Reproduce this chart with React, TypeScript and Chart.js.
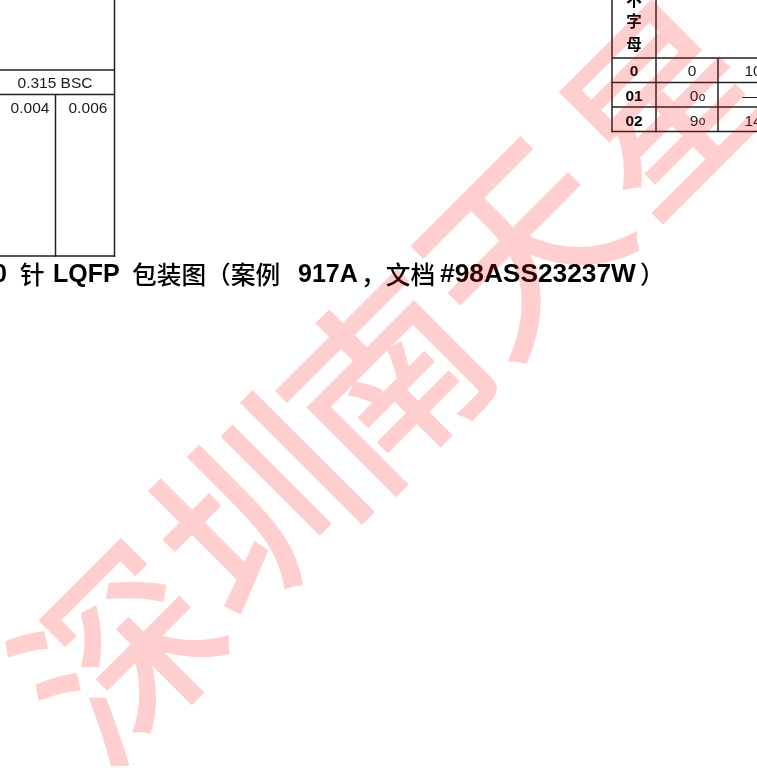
import React, { useEffect, useRef } from "react";
import { Chart, registerables } from "chart.js";

Chart.register(...registerables);

const W = 757;
const H = 768;

// table rules, each a [x1, y1, x2, y2] segment
const ruleSegments: number[][] = [
  [114.5, 0, 114.5, 257],
  [0, 70, 114.5, 70],
  [0, 94.5, 114.5, 94.5],
  [55.5, 94.5, 55.5, 257],
  [0, 256, 114.5, 256],
  [612, 0, 612, 132.5],
  [656, 0, 656, 132.5],
  [612, 58, 757, 58],
  [612, 82.5, 757, 82.5],
  [612, 107, 757, 107],
  [612, 131.5, 757, 131.5],
  [718, 58, 718, 132],
];

const cellTexts = ["0.315 BSC", "0.004", "0.006", "0", "10", "0", "—", "9", "14"];
const cellX = [55, 30, 88, 692, 753, 694, 750, 694, 753];
const cellY = [84, 108.5, 108.5, 72, 72, 97, 97, 121.5, 121.5];

const degreeTexts = ["o", "o"];
const degreeX = [702, 702];
const degreeY = [97.5, 121.5];

const headTexts = ["不", "字", "母", "0", "01", "02"];
const headX = [634, 634, 634, 634, 634, 634];
const headY = [2, 23, 46, 72, 97, 121.5];

const captionRuns = ["0", "针", "LQFP", "包装图（案例", "917A", "，文档", "#98ASS23237W", "）"];
const captionBold = [true, false, true, false, true, false, true, false];
const captionSizes = [25, 24.7, 25, 24.7, 25, 24.7, 26.3, 24.7];
const captionX = [-7, 20, 53, 132, 298, 361, 440, 640];
const captionY = 275;

const markChars = ["深", "圳", "南", "天", "星"];
const markX = [119, 255, 386, 519, 663];
const markY = [652, 508, 380, 244, 104];

const segmentPoints = ruleSegments.flatMap(([x1, y1, x2, y2]) => [
  { x: x1, y: y1 },
  { x: x2, y: y2 },
  { x: NaN, y: NaN },
]);

const pagePlugin = {
  id: "pageTexts",
  afterDatasetsDraw(chart: any) {
    const { ctx, scales } = chart;
    const sx = scales.x;
    const sy = scales.y;
    ctx.save();
    ctx.fillStyle = "#1a1a1a";
    ctx.textBaseline = "middle";
    ctx.textAlign = "center";
    ctx.font = '15.5px "Liberation Sans", Arial, sans-serif';
    cellTexts.forEach((t, i) => {
      ctx.fillText(t, sx.getPixelForValue(cellX[i]), sy.getPixelForValue(cellY[i]));
    });
    ctx.font = '12px "Liberation Sans", Arial, sans-serif';
    degreeTexts.forEach((t, i) => {
      ctx.fillText(t, sx.getPixelForValue(degreeX[i]), sy.getPixelForValue(degreeY[i]));
    });
    ctx.fillStyle = "#000";
    ctx.font = 'bold 15.5px "Liberation Sans", "Noto Sans CJK SC", sans-serif';
    headTexts.forEach((t, i) => {
      ctx.fillText(t, sx.getPixelForValue(headX[i]), sy.getPixelForValue(headY[i]));
    });
    ctx.textAlign = "left";
    captionRuns.forEach((t, i) => {
      ctx.font = captionBold[i]
        ? `bold ${captionSizes[i]}px "Liberation Sans", sans-serif`
        : `500 ${captionSizes[i]}px "Noto Sans CJK SC", sans-serif`;
      ctx.fillText(t, sx.getPixelForValue(captionX[i]), sy.getPixelForValue(captionY));
    });

    // The watermark is painted opaque on a layer, then laid over at low alpha.
    const layer = document.createElement("canvas");
    layer.width = W;
    layer.height = H;
    const l = layer.getContext("2d")!;
    l.fillStyle = "#ff0000";
    l.strokeStyle = "#ff0000";
    l.lineWidth = 3.5;
    l.lineJoin = "miter";
    l.textAlign = "center";
    l.textBaseline = "middle";
    l.font = 'normal 192px "Noto Sans CJK SC", sans-serif';
    markChars.forEach((c, i) => {
      l.save();
      l.translate(sx.getPixelForValue(markX[i]), sy.getPixelForValue(markY[i]));
      l.rotate(-Math.PI / 4);
      l.fillText(c, 0, 0);
      l.strokeText(c, 0, 0);
      l.restore();
    });
    ctx.globalAlpha = 0.19;
    ctx.drawImage(layer, 0, 0);
    ctx.restore();
  },
};

export default function App() {
  const ref = useRef<HTMLCanvasElement | null>(null);
  useEffect(() => {
    document.body.style.margin = "0";
    const chart = new Chart(ref.current!, {
      type: "scatter",
      data: {
        datasets: [
          {
            data: segmentPoints,
            showLine: true,
            spanGaps: false,
            borderColor: "#222",
            borderWidth: 1.5,
            pointRadius: 0,
          },
        ],
      },
      options: {
        responsive: false,
        animation: false,
        layout: { padding: 0 },
        plugins: { legend: { display: false }, tooltip: { enabled: false } },
        scales: {
          x: { type: "linear", min: 0, max: W, display: false },
          y: { type: "linear", min: 0, max: H, reverse: true, display: false },
        },
      },
      plugins: [pagePlugin],
    });
    return () => chart.destroy();
  }, []);
  return <canvas ref={ref} width={W} height={H} style={{ display: "block", background: "#fff" }} />;
}
